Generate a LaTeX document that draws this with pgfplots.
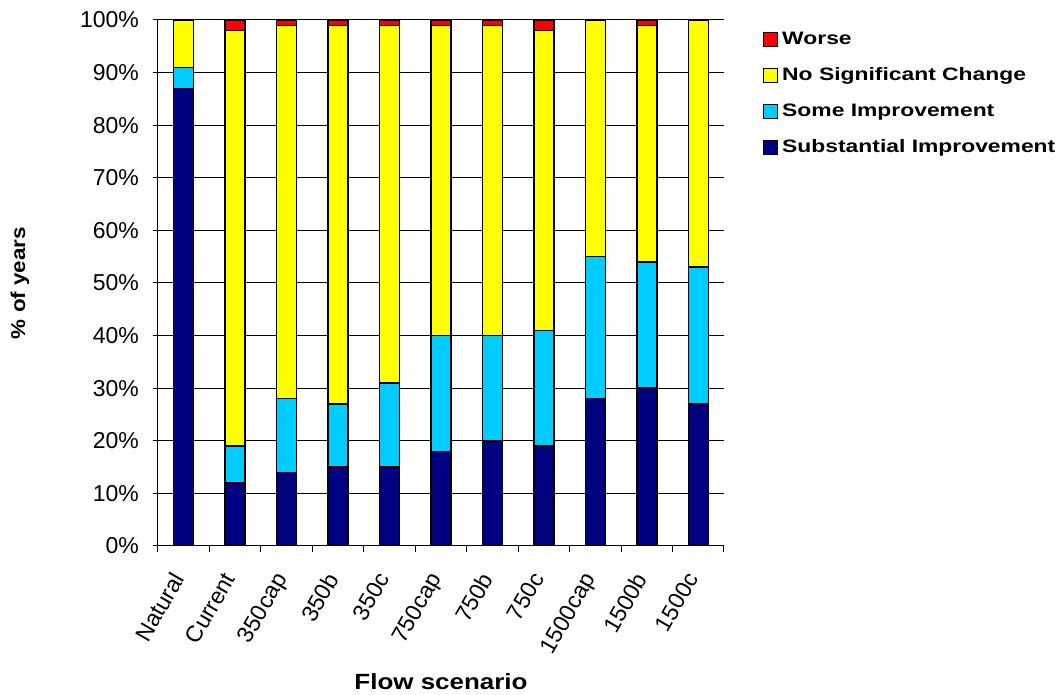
\documentclass[border=0pt]{standalone}
\usepackage{fontspec}
\setmainfont{Liberation Sans}
\newfontfamily\legfont{Liberation Sans}[FakeStretch=1.27]
\newfontfamily\xlabfont{Liberation Sans}[FakeStretch=1.18]
\newfontfamily\ylabfont{Liberation Sans}[FakeStretch=1.12]
\usepackage{pgfplots}
\pgfplotsset{compat=1.18}
\definecolor{navyb}{RGB}{0,0,128}
\definecolor{cyanb}{RGB}{0,204,255}
\definecolor{yellowb}{RGB}{255,255,0}
\definecolor{redb}{RGB}{255,0,0}
\begin{document}
\begin{tikzpicture}
\path[use as bounding box] (-79pt,-74.5pt) rectangle (452pt,273pt);
\begin{axis}[
 at={(0,0)}, anchor=south west,
 scale only axis, width=283pt, height=263pt,
 ybar stacked, bar width=10pt,
 xmin=-0.5, xmax=10.5, ymin=0, ymax=100,
 axis x line*=bottom, axis y line*=left,
 axis line style={black, line width=0.5pt},
 xtick={0,...,10},
 xticklabels={Natural,Current,350cap,350b,350c,750cap,750b,750c,1500cap,1500b,1500c},
 x tick label style={rotate=60, anchor=north east, inner sep=1pt, xshift=-10.6pt, yshift=1.85pt, font=\fontsize{11.5}{12}\selectfont},
 major x tick style={draw=none},
 minor xtick={-0.5,0.5,...,10.5},
 minor x tick style={black, line width=0.5pt},
 ytick={0,10,...,100},
 yticklabel={\pgfmathprintnumber{\tick}\%},
 y tick label style={font=\fontsize{11.5}{12}\selectfont, xshift=-3.5pt},
 /pgf/number format/assume math mode=true,
 y tick style={black, line width=0.5pt},
 tick align=outside, major tick length=2.5pt, minor tick length=3pt,
 ymajorgrids, grid style={black, line width=0.5pt},
 xlabel={\xlabfont\bfseries Flow scenario},
 xlabel style={at={(axis description cs:0.5,-0.2586)}, anchor=center, font=\fontsize{11}{12}\selectfont},
 ylabel={\ylabfont\bfseries \% of years},
 ylabel style={at={(axis description cs:-0.244,0.5)}, anchor=center, rotate=0, font=\fontsize{10}{12}\selectfont},
 legend style={at={(1.058,0.993)}, anchor=north west, draw=none, fill=none,
   font=\legfont\bfseries\fontsize{9}{10}\selectfont, row sep=6pt},
 legend cell align=left,
 reverse legend,
 legend image code/.code={\draw[#1,/tikz/.cd,line width=0.5pt] (0pt,-3.5pt) rectangle (7pt,3.5pt);},
]
\addplot[fill=navyb, draw=black, line width=0.75pt] coordinates {(0,87) (1,12) (2,14) (3,15) (4,15) (5,18) (6,20) (7,19) (8,28) (9,30) (10,27)};
\addplot[fill=cyanb, draw=black, line width=0.75pt] coordinates {(0,4) (1,7) (2,14) (3,12) (4,16) (5,22) (6,20) (7,22) (8,27) (9,24) (10,26)};
\addplot[fill=yellowb, draw=black, line width=0.75pt] coordinates {(0,9) (1,79) (2,71) (3,72) (4,68) (5,59) (6,59) (7,57) (8,45) (9,45) (10,47)};
\addplot[fill=redb, draw=black, line width=0.75pt] coordinates {(0,0) (1,2) (2,1) (3,1) (4,1) (5,1) (6,1) (7,2) (8,0) (9,1) (10,0)};
\legend{Substantial Improvement, Some Improvement, No Significant Change, Worse}
\end{axis}
\end{tikzpicture}
\end{document}
